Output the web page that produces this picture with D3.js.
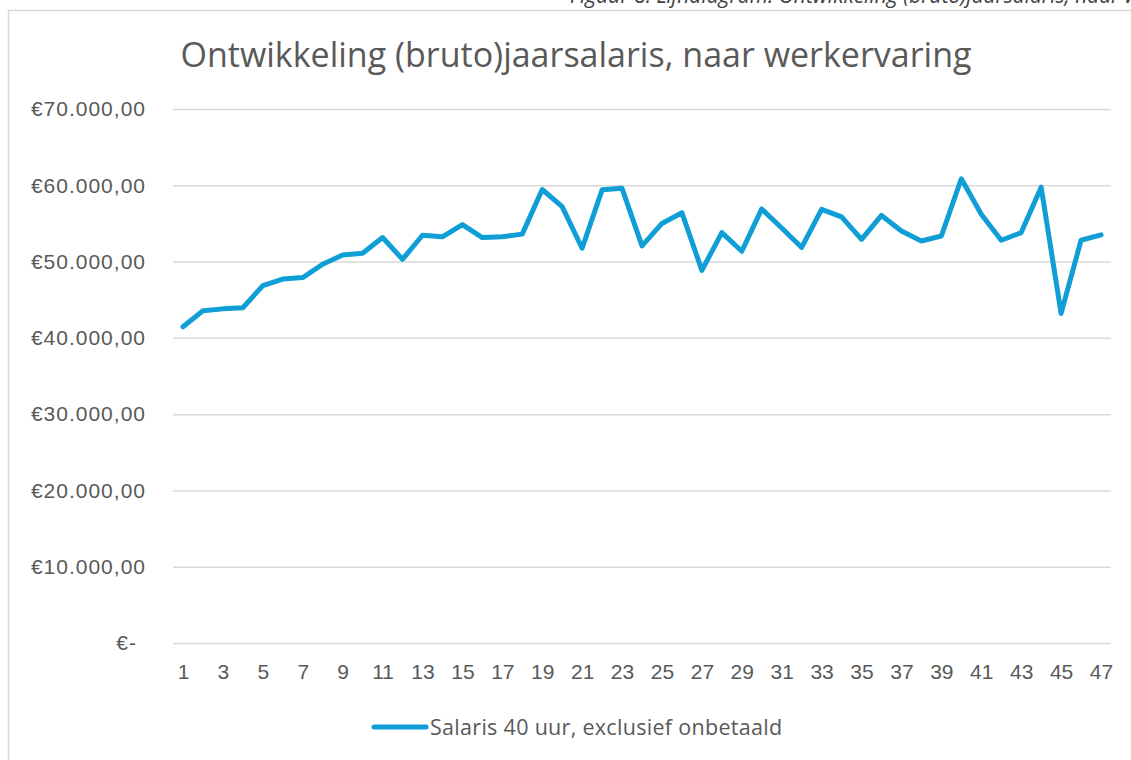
<!DOCTYPE html>
<html>
<head>
<meta charset="utf-8">
<script src="https://cdn.jsdelivr.net/npm/d3@7"></script>
<style>
  html, body { margin: 0; padding: 0; background: #fff; }
  svg { display: block; font-family: "Open Sans", "Noto Sans", sans-serif; }
</style>
</head>
<body>
<div id="chart"></div>
<script>
// jaren werkervaring
const years = d3.range(1, 48);
// salaris 40 uur, exclusief onbetaald
const salaries = [
  41450, 43550, 43800, 43950, 46850, 47700, 47900, 49650, 50850, 51100,
  53150, 50300, 53450, 53250, 54850, 53150, 53250, 53600, 59450, 57200,
  51750, 59400, 59600, 52050, 55000, 56400, 48850, 53800, 51350, 56900,
  54400, 51850, 56850, 55850, 52900, 56050, 54000, 52700, 53350, 60850,
  56200, 52800, 53800, 59750, 43200, 52800, 53500
];
const yTicks = [0, 10000, 20000, 30000, 40000, 50000, 60000, 70000];
const seriesName = 'Salaris 40 uur, exclusief onbetaald';
const title = 'Ontwikkeling (bruto)jaarsalaris, naar werkervaring';
const caption = 'Figuur 8: Lijndiagram: Ontwikkeling (bruto)jaarsalaris, naar werkervaring';

const width = 1131, height = 760;
const margin = { left: 173, right: 20, top: 109, bottom: 117 };
const textColor = '#595959';
const gridColor = '#d9d9d9';
const lineColor = '#0f9ed5';

const nl = d3.formatLocale({
  decimal: ',', thousands: '.', grouping: [3], currency: ['€', '']
});
const fmt = nl.format('$,.2f');

const svg = d3.select('#chart').append('svg')
  .attr('width', width).attr('height', height);

// caption (cut off at top, as in the source) and chart frame
svg.append('text')
  .attr('x', 570).attr('y', 3)
  .attr('font-style', 'italic')
  .attr('font-size', 21)
  .attr('fill', '#404040')
  .text(caption);

svg.append('rect')
  .attr('x', 8.5).attr('y', 10.5)
  .attr('width', width).attr('height', height)
  .attr('fill', 'none')
  .attr('stroke', gridColor)
  .attr('stroke-width', 1.5);

svg.append('text')
  .attr('x', 576).attr('y', 67)
  .attr('text-anchor', 'middle')
  .attr('font-size', 34)
  .attr('fill', textColor)
  .text(title);

const x = d3.scalePoint()
  .domain(years)
  .range([margin.left, width - margin.right])
  .padding(0.5);

const y = d3.scaleLinear()
  .domain([0, 70000])
  .range([height - margin.bottom, margin.top]);

// gridlines
svg.append('g')
  .attr('transform', `translate(${margin.left},0)`)
  .call(d3.axisLeft(y).tickValues(yTicks).tickSize(-(width - margin.left - margin.right)).tickFormat(''))
  .call(g => g.select('.domain').remove())
  .call(g => g.selectAll('line').attr('stroke', gridColor).attr('stroke-width', 1.5));

// y labels
svg.append('g')
  .attr('transform', 'translate(146,0)')
  .call(d3.axisLeft(y).tickValues(yTicks).tickSize(0).tickPadding(0)
    .tickFormat(d => d === 0 ? '€-' : fmt(d)))
  .call(g => g.select('.domain').remove())
  .call(g => g.selectAll('text')
    .attr('font-size', 21)
    .attr('letter-spacing', 1)
    .attr('fill', textColor)
    .attr('font-family', null)
    .attr('dx', d => d === 0 ? -9 : 0));

// x labels
svg.append('g')
  .attr('transform', `translate(0,${height - margin.bottom})`)
  .call(d3.axisBottom(x).tickValues(years.filter(d => d % 2 === 1)).tickSize(0).tickPadding(21))
  .call(g => g.select('.domain').remove())
  .call(g => g.selectAll('text')
    .attr('font-size', 21)
    .attr('fill', textColor)
    .attr('font-family', null));

// line
const line = d3.line()
  .x((d, i) => x(years[i]))
  .y(d => y(d));

svg.append('path')
  .datum(salaries)
  .attr('d', line)
  .attr('fill', 'none')
  .attr('stroke', lineColor)
  .attr('stroke-width', 5)
  .attr('stroke-linejoin', 'round')
  .attr('stroke-linecap', 'round');

// legend
const legend = svg.append('g').attr('transform', 'translate(374,727)');
legend.append('line')
  .attr('x1', 0).attr('x2', 52)
  .attr('stroke', lineColor)
  .attr('stroke-width', 5)
  .attr('stroke-linecap', 'round');
legend.append('text')
  .attr('x', 56).attr('y', 8)
  .attr('font-size', 21.5)
  .attr('letter-spacing', 0.3)
  .attr('fill', textColor)
  .text(seriesName);
</script>
</body>
</html>
